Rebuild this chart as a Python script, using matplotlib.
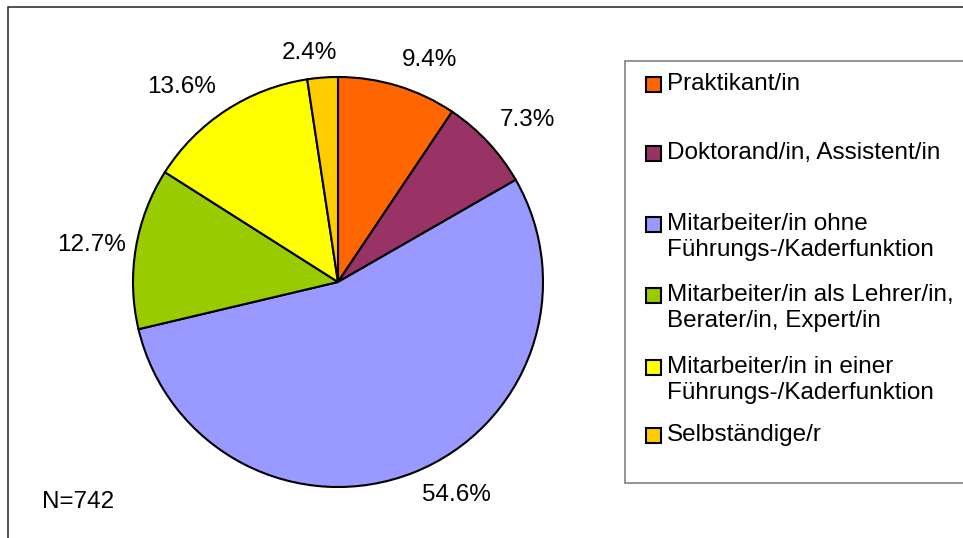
import math
import matplotlib
matplotlib.use("Agg")
import matplotlib.pyplot as plt
from matplotlib.patches import Rectangle

categories = [
    "Praktikant/in",
    "Doktorand/in, Assistent/in",
    "Mitarbeiter/in ohne\nFührungs-/Kaderfunktion",
    "Mitarbeiter/in als Lehrer/in,\nBerater/in, Expert/in",
    "Mitarbeiter/in in einer\nFührungs-/Kaderfunktion",
    "Selbständige/r",
]
values = [9.4, 7.3, 54.6, 12.7, 13.6, 2.4]
colors = ["#FF6600", "#993366", "#9999FF", "#99CC00", "#FFFF00", "#FFCC00"]
n_label = "N=742"

W, H = 963, 538
FONT = "Liberation Sans"
FS = 17.5
CX, CY, R = 338, 282, 205

# per-label nudges in pixels (layout only, mimicking Excel's best-fit placement)
label_nudge = [(-1, -10), (0, -11), (2, 7), (6, 0), (-1, -10), (16, -8)]

fig = plt.figure(figsize=(W / 100, H / 100), dpi=100)
ax = fig.add_axes([0, 0, 1, 1])

def Y(y):
    return H - y

labels = [f"{v:.1f}%" for v in values]
wedges, texts = ax.pie(values, colors=colors, labels=labels, startangle=90,
                       counterclock=False, center=(CX, Y(CY)), radius=R,
                       labeldistance=1.08, frame=True,
                       wedgeprops=dict(edgecolor="black", linewidth=1.5),
                       textprops=dict(fontsize=FS, family=FONT, color="black"))
ax.set_xlim(0, W)
ax.set_ylim(0, H)
ax.set_aspect("equal")
ax.axis("off")

for t, (dx, dy) in zip(texts, label_nudge):
    x, y = t.get_position()
    t.set_ha("left" if x >= CX else "right")
    t.set_va("center")
    t.set_position((x + dx, y - dy))

# outer chart frame (partly cropped)
ax.plot([8, 8, W + 5], [Y(H + 5), Y(7), Y(7)], color="#222222", lw=1.1,
        solid_joinstyle="miter", zorder=1)

# legend box
ax.add_patch(Rectangle((625, Y(483)), 400, 483 - 61, facecolor="white",
                       edgecolor="#808080", lw=1.2, zorder=2))
entry_y = [84, 153, 224, 295, 367, 435]
for lab, col, yy in zip(categories, colors, entry_y):
    ax.add_patch(Rectangle((645.5, Y(yy + 7.5)), 15, 15, facecolor=col,
                           edgecolor="black", lw=1.5, zorder=3))
    for i, line in enumerate(lab.split("\n")):
        ax.text(667, Y(yy + i * 26), line, ha="left", va="center",
                fontsize=FS, family=FONT, zorder=3)

ax.text(42, Y(502), n_label, ha="left", va="center", fontsize=FS, family=FONT)

fig.savefig("out.png", dpi=100)
